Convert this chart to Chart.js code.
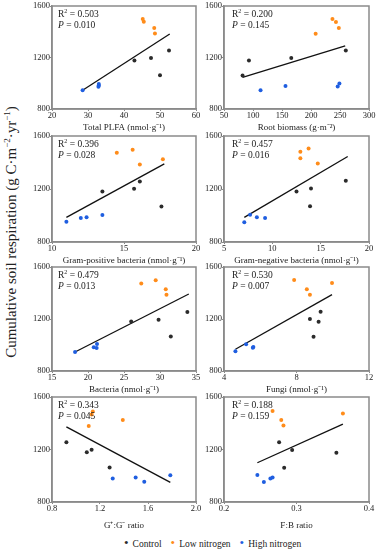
<!DOCTYPE html>
<html><head><meta charset="utf-8">
<script src="https://cdn.jsdelivr.net/npm/chart.js@4.4.1/dist/chart.umd.min.js"></script>
<style>
html,body{margin:0;padding:0;background:#fff;}
body{width:378px;height:550px;position:relative;overflow:hidden;font-family:"Liberation Serif","Times New Roman",serif;color:#222;}
canvas{position:absolute;}
.stat{position:absolute;font-size:9.5px;line-height:11px;white-space:nowrap;color:#222;}
.stat sup{font-size:6px;vertical-align:4px;line-height:0;}
.ylab{position:absolute;left:11px;top:232px;transform:translate(-50%,-50%) rotate(-90deg);font-size:15px;white-space:nowrap;color:#222;}
.ylab sup{font-size:9px;vertical-align:6px;line-height:0;}
.legend{position:absolute;top:537px;left:124px;font-size:9.5px;line-height:12px;white-space:nowrap;color:#222;}
.legend span.d{font-size:13px;margin-right:4px;}
.legend span.g{margin-right:9px;}
</style></head><body>
<div class="ylab">Cumulative soil respiration (g C·m<sup>−2</sup>·yr<sup>−1</sup>)</div>
<div class="legend"><span class="d" style="color:#2b2b2b">•</span><span class="g">Control</span><span class="d" style="color:#ff8c1a">•</span><span class="g">Low nitrogen</span><span class="d" style="color:#1f5ee0">•</span><span>High nitrogen</span></div>
<script>
// ---------- DATA ----------
const yTicks = [800, 1200, 1600];

// Panel 1: Total PLFA
const plfaTicks = [20, 30, 40, 50, 60];
const plfaCtl  = [[42.9,1176],[47.5,1197],[50.0,1062],[52.5,1254]];
const plfaLow  = [[45.2,1499],[45.5,1478],[48.4,1429],[48.6,1387]];
const plfaHigh = [[28.5,946],[33.0,995],[33.0,982],[32.9,972]];
const plfaFit  = [[28.5,946],[52.7,1383]];
const plfaStat = ["0.503","0.010"];

// Panel 2: Root biomass
const rootTicks = [50, 100, 150, 200, 250, 300];
const rootCtl  = [[82,1060],[93,1176],[166,1197],[260,1254]];
const rootLow  = [[237,1499],[243,1475],[248,1430],[208,1385]];
const rootHigh = [[113,946],[156,978],[246,974],[249,999]];
const rootFit  = [[82,1046],[259,1291]];
const rootStat = ["0.200","0.145"];

// Panel 3: Gram-positive bacteria
const gpTicks = [10, 15, 20];
const gpCtl  = [[13.5,1181],[15.7,1201],[16.1,1257],[17.6,1067]];
const gpLow  = [[14.5,1473],[15.6,1496],[16.1,1384],[17.7,1425]];
const gpHigh = [[11.0,953],[12.0,981],[12.4,986],[13.5,1003]];
const gpFit  = [[11.0,986],[17.8,1390]];
const gpStat = ["0.396","0.028"];

// Panel 4: Gram-negative bacteria
const gnTicks = [5, 10, 15, 20];
const gnCtl  = [[12.5,1181],[14.0,1204],[13.9,1069],[17.6,1262]];
const gnLow  = [[12.9,1481],[12.9,1432],[13.75,1506],[14.7,1392]];
const gnHigh = [[7.1,950],[7.7,1006],[8.4,986],[9.25,981]];
const gnFit  = [[7.1,986],[17.8,1445]];
const gnStat = ["0.457","0.016"];

// Panel 5: Bacteria
const bacTicks = [15, 20, 25, 30, 35];
const bacCtl  = [[26.0,1180],[29.8,1195],[31.5,1066],[33.8,1253]];
const bacLow  = [[27.4,1473],[29.4,1499],[30.8,1428],[30.9,1387]];
const bacHigh = [[18.2,946],[20.8,982],[21.2,977],[21.25,1008]];
const bacFit  = [[18.2,946],[34.0,1392]];
const bacStat = ["0.479","0.013"];

// Panel 6: Fungi
const funTicks = [4, 8, 12];
const funCtl  = [[8.74,1200],[9.22,1179],[8.94,1064],[9.33,1256]];
const funLow  = [[7.87,1500],[8.57,1428],[8.74,1387],[9.96,1477]];
const funHigh = [[4.63,951],[5.22,1005],[5.59,979],[5.62,985]];
const funFit  = [[4.63,967],[9.96,1387]];
const funStat = ["0.530","0.007"];

// Panel 7: G+:G- ratio
const ggTicks = [0.8, 1.2, 1.6, 2.0];
const ggCtl  = [[0.92,1255],[1.09,1180],[1.13,1198],[1.28,1063]];
const ggLow  = [[1.106,1380],[1.13,1466],[1.14,1490],[1.39,1424]];
const ggHigh = [[1.306,980],[1.497,987],[1.569,954],[1.786,1004]];
const ggFit  = [[0.92,1372],[1.786,949]];
const ggStat = ["0.343","0.045"];

// Panel 8: F:B ratio
const fbTicks = [0.2, 0.3, 0.4];
const fbCtl  = [[0.276,1256],[0.294,1197],[0.283,1061],[0.355,1175]];
const fbLow  = [[0.267,1494],[0.279,1425],[0.282,1382],[0.364,1474]];
const fbHigh = [[0.246,1005],[0.255,952],[0.264,980],[0.267,987]];
const fbFit  = [[0.246,1099],[0.364,1393]];
const fbStat = ["0.188","0.159"];

// ---------- STYLE / LAYOUT ----------
const C_CTL = '#2b2b2b', C_LOW = '#ff8c1a', C_HIGH = '#1f5ee0';
const FONT = '"Liberation Serif","Times New Roman",serif';
const LEFT = {x:18, w:188, yw:34, padR:10};
const RIGHT = {x:190, w:188, yw:34, padR:9};
const ROWS = [
  {top:0,   plotH:103, axH:24},
  {top:130, plotH:106, axH:24},
  {top:261, plotH:104, axH:24},
  {top:391, plotH:105, axH:29}
];

const panels = [
  {col:LEFT,  row:0, ticks:plfaTicks, ctl:plfaCtl, low:plfaLow, high:plfaHigh, fit:plfaFit, stat:plfaStat, dec:0, title:'Total PLFA (nmol·g⁻¹)'},
  {col:RIGHT, row:0, ticks:rootTicks, ctl:rootCtl, low:rootLow, high:rootHigh, fit:rootFit, stat:rootStat, dec:0, title:'Root biomass (g·m⁻²)'},
  {col:LEFT,  row:1, ticks:gpTicks, ctl:gpCtl, low:gpLow, high:gpHigh, fit:gpFit, stat:gpStat, dec:0, title:'Gram-positive bacteria (nmol·g⁻¹)'},
  {col:RIGHT, row:1, ticks:gnTicks, ctl:gnCtl, low:gnLow, high:gnHigh, fit:gnFit, stat:gnStat, dec:0, title:'Gram-negative bacteria (nmol·g⁻¹)'},
  {col:LEFT,  row:2, ticks:bacTicks, ctl:bacCtl, low:bacLow, high:bacHigh, fit:bacFit, stat:bacStat, dec:0, title:'Bacteria (nmol·g⁻¹)'},
  {col:RIGHT, row:2, ticks:funTicks, ctl:funCtl, low:funLow, high:funHigh, fit:funFit, stat:funStat, dec:0, title:'Fungi (nmol·g⁻¹)'},
  {col:LEFT,  row:3, ticks:ggTicks, ctl:ggCtl, low:ggLow, high:ggHigh, fit:ggFit, stat:ggStat, dec:1, title:'G⁺:G⁻ ratio'},
  {col:RIGHT, row:3, ticks:fbTicks, ctl:fbCtl, low:fbLow, high:fbHigh, fit:fbFit, stat:fbStat, dec:1, title:'F:B ratio'}
];

const toPts = a => a.map(p => ({x:p[0], y:p[1]}));

const boxPlugin = {
  id:'box',
  afterDraw(chart){
    const {ctx, chartArea:a} = chart;
    ctx.save();
    ctx.strokeStyle = '#8a8a8a';
    ctx.lineWidth = 1.5;
    ctx.strokeRect(a.left, a.top, a.right - a.left, a.bottom - a.top);
    ctx.restore();
  }
};

panels.forEach(p => {
  const row = ROWS[p.row], col = p.col;
  const padTop = 6;
  const cv = document.createElement('canvas');
  const h = padTop + row.plotH + row.axH;
  cv.width = col.w; cv.height = h;
  cv.style.left = col.x + 'px'; cv.style.top = row.top + 'px';
  cv.style.width = col.w + 'px'; cv.style.height = h + 'px';
  document.body.appendChild(cv);

  const plotLeft = col.x + col.yw;
  const st = document.createElement('div');
  st.className = 'stat';
  st.style.left = (plotLeft + (col === LEFT ? 6 : 8)) + 'px';
  st.style.top = (row.top + padTop + 3) + 'px';
  st.innerHTML = 'R<sup>2</sup> = ' + p.stat[0] + '<br><i>P</i> = ' + p.stat[1];
  document.body.appendChild(st);

  const xt = p.ticks;
  new Chart(cv, {
    type:'scatter',
    data:{datasets:[
      {label:'Control', data:toPts(p.ctl), backgroundColor:C_CTL, pointRadius:2, pointBorderWidth:0},
      {label:'Low nitrogen', data:toPts(p.low), backgroundColor:C_LOW, pointRadius:2, pointBorderWidth:0},
      {label:'High nitrogen', data:toPts(p.high), backgroundColor:C_HIGH, pointRadius:2, pointBorderWidth:0},
      {type:'line', label:'fit', data:toPts(p.fit), borderColor:'#111', borderWidth:1.3, pointRadius:0, fill:false, tension:0}
    ]},
    options:{
      responsive:false, animation:false, devicePixelRatio:1,
      layout:{padding:{top:padTop, right:col.padR, left:0, bottom:0}},
      plugins:{legend:{display:false}, tooltip:{enabled:false}},
      scales:{
        x:{type:'linear', min:xt[0], max:xt[xt.length-1],
           afterBuildTicks:s => { s.ticks = xt.map(v => ({value:v})); },
           afterFit:s => { s.height = row.axH; },
           ticks:{font:{family:FONT, size:8.5}, color:'#222', padding:0, maxRotation:0, autoSkip:false,
                  callback:v => Number(v).toFixed(p.dec)},
           grid:{display:true, drawOnChartArea:false, drawTicks:true, tickLength:2, color:'#8a8a8a'},
           border:{display:true, color:'#8a8a8a', width:1.5},
           title:{display:true, text:p.title, font:{family:FONT, size:9}, color:'#222', padding:{top:0,bottom:0}}
        },
        y:{type:'linear', min:yTicks[0], max:yTicks[yTicks.length-1],
           afterBuildTicks:s => { s.ticks = yTicks.map(v => ({value:v})); },
           afterFit:s => { s.width = col.yw; },
           ticks:{font:{family:FONT, size:8.5}, color:'#222', padding:0, autoSkip:false,
                  callback:v => String(v)},
           grid:{display:true, drawOnChartArea:false, drawTicks:true, tickLength:2, color:'#8a8a8a'},
           border:{display:true, color:'#8a8a8a', width:1.5}
        }
      }
    },
    plugins:[boxPlugin]
  });
});
</script>
</body></html>
